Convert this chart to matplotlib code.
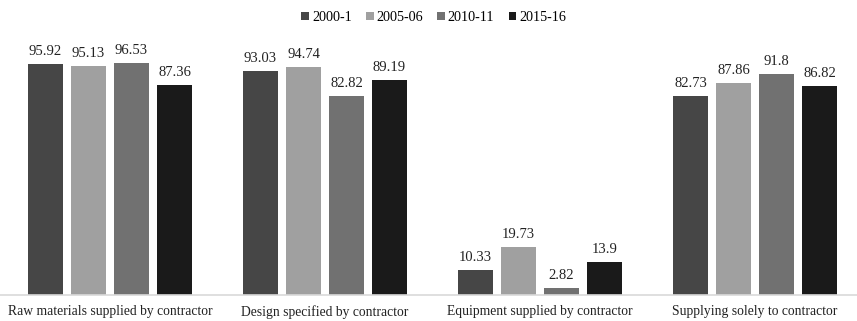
import numpy as np
import matplotlib
matplotlib.use("Agg")
import matplotlib.pyplot as plt
from matplotlib.patches import Patch

# Share of firms by type of subcontracting arrangement, four survey rounds
categories = ["Raw materials supplied by contractor", "Design specified by contractor",
              "Equipment supplied by contractor", "Supplying solely to contractor"]
years = ["2000-1", "2005-06", "2010-11", "2015-16"]
v_2000 = [95.92, 93.03, 10.33, 82.73]
v_2005 = [95.13, 94.74, 19.73, 87.86]
v_2010 = [96.53, 82.82, 2.82, 91.8]
v_2015 = [87.36, 89.19, 13.9, 86.82]
labels_2000 = ["95.92", "93.03", "10.33", "82.73"]
labels_2005 = ["95.13", "94.74", "19.73", "87.86"]
labels_2010 = ["96.53", "82.82", "2.82", "91.8"]
labels_2015 = ["87.36", "89.19", "13.9", "86.82"]

series = [v_2000, v_2005, v_2010, v_2015]
labels = [labels_2000, labels_2005, labels_2010, labels_2015]
colors = ["#464646", "#a0a0a0", "#717171", "#1a1a1a"]

plt.rcParams["font.family"] = ["Liberation Serif", "DejaVu Serif"]

fig = plt.figure(figsize=(8.57, 3.21), dpi=100)
ax = fig.add_axes([0.0, 0.081, 1.0, 0.75])

x = np.arange(len(categories))
step = 0.2
width = 0.16
for k, (vals, labs, c) in enumerate(zip(series, labels, colors)):
    pos = x + (k - 1.5) * step
    ax.bar(pos, vals, width=width, color=c, zorder=2)
    for p, v, t in zip(pos, vals, labs):
        ax.text(p, v + 2.5, t, ha="center", va="bottom", fontsize=10.5, color="#222222")

ax.set_xlim(-110 / 215, (857 - 110) / 215)
ax.set_ylim(0, 100)
ax.set_yticks([])
ax.set_xticks(x)
ax.set_xticklabels(categories, fontsize=9.8, color="#222222")
ax.tick_params(axis="x", length=0, pad=7)
for s in ["top", "right", "left"]:
    ax.spines[s].set_visible(False)
ax.spines["bottom"].set_color("#d9d9d9")
ax.spines["bottom"].set_linewidth(1.2)

handles = [Patch(facecolor=c, label=y) for c, y in zip(colors, years)]
fig.legend(handles=handles, loc="upper center", bbox_to_anchor=(0.506, 1.005), ncol=4,
           frameon=False, fontsize=10.2, handlelength=0.55, handleheight=0.55,
           handletextpad=0.2, columnspacing=1.0)

fig.savefig("out.png", dpi=100)
